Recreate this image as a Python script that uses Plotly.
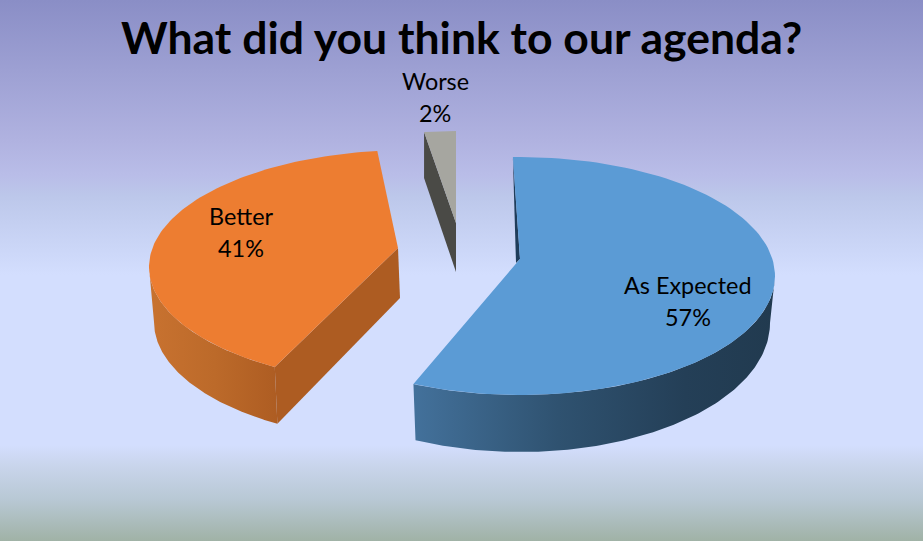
import numpy as np
import plotly.graph_objects as go

# ---- data ----
title = "What did you think to our agenda?"
categories = ["As Expected", "Better", "Worse"]
values = [57, 41, 2]

# ---- canvas and styling ----
W, H = 923, 541
FONT = "Lato"
bg_stops = [(0, "#8A8EC6"), (140, "#B0B2E0"), (175, "#B9BDE8"), (195, "#BCC7EA"), (275, "#D3DEFE"),
            (445, "#D3DEFE"), (465, "#C9D5EC"), (500, "#B8C8D4"), (541, "#A0B2A6")]
top_colors = ["#5B9BD5", "#ED7D31", "#A6A6A0"]
top_ellipse = [(520, 276, 255, 119), (410, 267, 261, 117), (456, 249, 255, 118)]
bottom_ellipse = [(520, 323, 250, 129), (410, 322, 256, 119), (456, 295, 255, 118)]
apex_top = [(520, 259), (398, 248), (456, 223)]
apex_bottom = [(516, 263), (400, 298), (456, 272)]
boundary_shift = [(-1.6, -0.5), (6, 0), (0, 0)]
label_xy = [(688, 285, 317), (241, 216, 248), (435, 81, 113)]
blue_wall = [[0, "#43719B"], [0.4, "#2F5270"], [0.75, "#243F57"], [1, "#213A4F"]]
orange_wall = [[0, "#C87230"], [0.5, "#BC6A2A"], [1, "#AD5C22"]]


def arc(ell, t0, t1, n=120):
    cx, cy, a, b = ell
    t = np.radians(np.linspace(t0, t1, n))
    return cx + a * np.sin(t), cy - b * np.cos(t)


fig = go.Figure()

# gradient background
fig.add_trace(go.Scatter(
    x=[0, W, W, 0, 0], y=[0, 0, H, H, 0], mode="lines", line_width=0, fill="toself",
    fillgradient=dict(type="vertical", start=0, stop=H,
                      colorscale=[[s / H, c] for s, c in bg_stops]),
    hoverinfo="skip", showlegend=False))

edges = np.cumsum([0] + values) / sum(values) * 360
spans = []
for i in range(len(values)):
    spans.append((edges[i] + boundary_shift[i][0], edges[i + 1] + boundary_shift[i][1]))


def add_poly(xs, ys, color=None, grad=None):
    kw = dict(x=list(xs) + [xs[0]], y=list(ys) + [ys[0]], mode="lines", line_width=0,
              fill="toself", hoverinfo="skip", showlegend=False)
    if grad is not None:
        kw["fillgradient"] = grad
    else:
        kw["fillcolor"] = color
    fig.add_trace(go.Scatter(**kw))


# blue
t0, t1 = spans[0]
tx, ty = arc(top_ellipse[0], 90, t1)
bx, by = arc(bottom_ellipse[0], 90, t1)
add_poly(np.r_[tx, bx[::-1]], np.r_[ty, by[::-1]],
         grad=dict(type="horizontal", start=414, stop=775, colorscale=blue_wall))
sx, sy = arc(top_ellipse[0], t0, t0, 1)
add_poly([sx[0], apex_top[0][0], apex_bottom[0][0]], [sy[0], apex_top[0][1], apex_bottom[0][1]], "#1F3D5A")
ax, ay = arc(top_ellipse[0], t0, t1)
add_poly(np.r_[apex_top[0][0], ax], np.r_[apex_top[0][1], ay], top_colors[0])

# orange
t0, t1 = spans[1]
tx, ty = arc(top_ellipse[1], t0, 270)
bx, by = arc(bottom_ellipse[1], t0, 270)
add_poly(np.r_[tx, bx[::-1]], np.r_[ty, by[::-1]],
         grad=dict(type="horizontal", start=149, stop=280, colorscale=orange_wall))
cx0, cy0 = arc(top_ellipse[1], t0, t0, 1)
cx1, cy1 = arc(bottom_ellipse[1], t0, t0, 1)
add_poly([apex_top[1][0], cx0[0], cx1[0], apex_bottom[1][0]],
         [apex_top[1][1], cy0[0], cy1[0], apex_bottom[1][1]], "#AD5C22")
ax, ay = arc(top_ellipse[1], t0, t1)
add_poly(np.r_[apex_top[1][0], ax], np.r_[apex_top[1][1], ay], top_colors[1])

# grey
t0, t1 = spans[2]
lx, ly = arc(top_ellipse[2], t0, t0, 1)
add_poly([lx[0], lx[0], apex_bottom[2][0], apex_top[2][0]],
         [ly[0], ly[0] + 46, apex_bottom[2][1], apex_top[2][1]], "#4A4A46")
ax, ay = arc(top_ellipse[2], t0, t1)
add_poly(np.r_[apex_top[2][0], ax], np.r_[apex_top[2][1], ay], top_colors[2])

# labels
ann = [dict(text=f"<b>{title}</b>", x=461, y=36, xref="x", yref="y", showarrow=False,
            font=dict(family=FONT, size=44.5, color="#000000"))]
for cat, val, (lx_, y1, y2) in zip(categories, values, label_xy):
    ann.append(dict(text=cat, x=lx_, y=y1, xref="x", yref="y", showarrow=False,
                    font=dict(family=FONT, size=23.4, color="#000000")))
    ann.append(dict(text=f"{val}%", x=lx_, y=y2, xref="x", yref="y", showarrow=False,
                    font=dict(family=FONT, size=23.4, color="#000000")))

fig.update_layout(
    width=W, height=H, margin=dict(l=0, r=0, t=0, b=0), showlegend=False,
    paper_bgcolor="#D3DEFE", plot_bgcolor="#D3DEFE", annotations=ann,
    xaxis=dict(range=[0, W], visible=False, fixedrange=True),
    yaxis=dict(range=[H, 0], visible=False, fixedrange=True),
)
fig.write_html("out.html", config=dict(displayModeBar=False),
               post_script="document.body.style.margin='0';")
